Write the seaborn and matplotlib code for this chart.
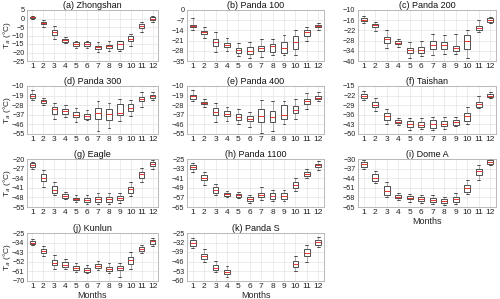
import numpy as np
import pandas as pd
import matplotlib
matplotlib.use("Agg")
import matplotlib.pyplot as plt
import seaborn as sns

months = list(range(1, 13))

# five-number summaries per month: [min, q1, median, q3, max]
zhongshan = [[-0.5, 0.2, 0.7, 1.0, 1.5], [-5, -3.5, -2.7, -1.8, -0.8], [-12, -9.6, -8, -6.6, -4.6],
             [-14.5, -13.6, -12.8, -12, -11], [-17.5, -16, -15, -14, -13], [-17.5, -16.2, -15, -14, -13],
             [-19.5, -17.8, -16.7, -16, -14], [-19, -17.5, -16.3, -15.3, -13.5], [-19, -17.8, -15, -13.5, -13],
             [-16, -13, -11.8, -10.5, -9], [-8, -5.5, -4.5, -3.5, -2], [-2, -0.8, 0, 0.8, 1.5]]
panda100 = [[-13.5, -11.7, -11, -10.2, -5.5], [-19, -16.3, -15.3, -14.3, -12], [-29, -24.5, -22, -19.8, -15],
            [-28, -25.7, -24, -22.8, -19.5], [-31.5, -29.5, -27.5, -26, -22.5], [-33, -30.3, -28, -25.7, -22],
            [-32, -28, -26, -24.5, -20], [-31, -28.5, -24.5, -23, -20], [-31, -29.8, -26, -22.3, -17],
            [-31, -26.8, -22, -17.5, -14], [-21, -17.5, -15, -13.5, -11.5], [-13.5, -11.7, -11, -10.3, -9]]
panda200 = [[-17.5, -16.6, -15.8, -14.8, -13.5], [-22.5, -20, -19, -18, -17], [-32.5, -29.2, -27.3, -26, -22],
            [-32, -30.2, -29.3, -28.5, -27], [-38, -35, -33.5, -32.5, -29], [-37, -35.5, -33.5, -31.5, -28.5],
            [-36.5, -33, -30.8, -28, -24], [-36, -32.8, -30.5, -29, -24.5], [-36, -34, -32.5, -31, -24],
            [-38, -33, -28, -24.5, -22], [-23, -22, -20.8, -19.5, -16], [-17.8, -17, -16, -14.8, -14]]
panda300 = [[-23, -20.8, -19.5, -17.5, -14], [-28, -25.8, -24.5, -23.5, -21], [-41, -35.8, -32, -29.5, -25.5],
            [-39, -36.3, -33.5, -32, -28], [-43.5, -39, -37, -34.5, -30.5], [-42, -40.5, -38.5, -36, -32.5],
            [-52, -40.5, -35, -31, -24.5], [-49, -41.5, -36.5, -32, -26], [-43, -37.3, -35, -27, -22.5],
            [-38, -33.5, -31, -27, -23], [-30, -24.3, -22.5, -20.3, -15.5], [-23.5, -21.5, -19.5, -18, -15.5]]
panda400 = [[-24, -21.8, -19.5, -18, -14], [-30, -27, -26, -25.3, -22], [-44, -37.5, -34, -31, -26],
            [-43, -38.3, -36, -33.5, -29.5], [-46, -42, -39, -36, -32], [-48, -43, -41, -38.5, -34],
            [-54, -44, -38, -32, -23.5], [-52, -44, -39, -33.5, -24.5], [-46, -40.5, -37, -28, -24],
            [-41, -35, -32.5, -28.5, -22], [-32, -26.5, -24, -22, -16.5], [-24, -22.5, -21, -19, -16]]
taishan = [[-25, -23.4, -22, -20.8, -19], [-33, -30.2, -28.5, -27, -24], [-43, -39.5, -37, -35, -31.5],
           [-43.5, -41.8, -41, -39.8, -38], [-47, -45, -43, -40.5, -38], [-46.5, -44.8, -43.5, -41.5, -38.5],
           [-47, -45.5, -43, -40, -37.5], [-46, -44.3, -42.5, -40.5, -37.5], [-44.5, -43.3, -41.5, -39.5, -37.5],
           [-42.5, -40.5, -37, -34.5, -30], [-31, -30.2, -28, -26.5, -22.5], [-24, -23.3, -22, -20.8, -19.5]]
eagle = [[-27.5, -25.8, -24.5, -23.2, -22], [-40.5, -36, -33.5, -31, -28], [-46, -45, -42.5, -40, -37],
         [-49.5, -48.5, -47, -45.8, -44], [-51, -50, -49, -48.3, -46.5], [-52.5, -51.5, -50, -48.5, -46],
         [-52.5, -51, -49, -47.5, -45], [-53, -51, -49.5, -48, -45], [-52, -50, -48.5, -47, -44.5],
         [-47, -44.5, -42, -40.5, -37], [-36.5, -34, -31, -29.5, -26.5], [-27, -24.8, -23.5, -22.3, -20.5]]
panda1100 = [[-35.5, -33.5, -32, -30, -28.5], [-47, -42.5, -40.5, -38, -36], [-55, -53, -51, -48.5, -45.5],
             [-57, -56, -54.5, -53, -51.5], [-57.5, -56.3, -55, -53.8, -52.5], [-61.5, -59.8, -58, -56.5, -55],
             [-59, -57, -55, -53, -48.5], [-60, -58, -55.5, -53, -50.5], [-60, -58, -56, -53.5, -51],
             [-52, -49.5, -47, -44, -41], [-41, -39.5, -37.5, -35.5, -33], [-34, -32, -30.3, -29, -27]]
domea = [[-37.5, -36, -34, -32, -31], [-47.5, -46, -43.5, -41, -39], [-57.5, -56.5, -53, -50, -47],
         [-60, -58.5, -57.5, -56, -55], [-61, -59.5, -58.5, -57.3, -55.5], [-62, -60.3, -59, -58, -56.5],
         [-63, -61.5, -60, -58.5, -56], [-63.5, -62, -60.5, -59.3, -57.5], [-63, -61.5, -59.5, -57.5, -54.5],
         [-55.5, -54, -51.5, -49, -45.5], [-45, -41.5, -39, -37, -34.5], [-34.5, -33.3, -32, -31, -30]]
kunlun = [[-36, -35.5, -34, -32.5, -31], [-47, -44, -42, -40, -37], [-59, -55.5, -53, -50.5, -46],
          [-59, -57, -55, -52.5, -49.5], [-61.5, -60, -58, -56, -53], [-63, -61.5, -60, -58, -55.5],
          [-60, -58, -56, -54, -51.5], [-63, -61, -59, -57.5, -53], [-67, -60, -58, -56, -53.5],
          [-59, -54, -51, -47.5, -43], [-44, -42.5, -40.5, -38.5, -36], [-37, -35, -33, -31.5, -29.5]]
nan5 = [np.nan] * 5
pandas_ = [[-36, -34.3, -32.5, -30.5, -29], [-46.5, -44, -42, -40.5, -36.5], [-54, -52, -50.5, -48.5, -45.5],
           [-57.5, -55.5, -54, -52, -49.5], nan5, nan5, nan5, nan5, nan5,
           [-53, -50, -47.5, -45.5, -42], [-46, -42, -39.5, -37, -34], [-35, -33.5, -31.5, -30, -28]]

titles = ["(a) Zhongshan", "(b) Panda 100", "(c) Panda 200", "(d) Panda 300", "(e) Panda 400",
          "(f) Taishan", "(g) Eagle", "(h) Panda 1100", "(i) Dome A", "(j) Kunlun", "(k) Panda S"]
series = [zhongshan, panda100, panda200, panda300, panda400, taishan, eagle, panda1100, domea, kunlun, pandas_]
yticks = [list(range(5, -26, -5)), list(range(0, -36, -7)), list(range(-10, -41, -6)),
          list(range(-10, -56, -9)), list(range(-10, -56, -9)), list(range(-15, -51, -7)),
          list(range(-20, -56, -7)), list(range(-25, -66, -8)), list(range(-30, -66, -7)),
          list(range(-25, -71, -9)), list(range(-25, -61, -7))]

sns.set_style("whitegrid")
plt.rcParams['font.family'] = ['Liberation Sans', 'DejaVu Sans']

W, H = 500, 299
fig = plt.figure(figsize=(W / 100, H / 100), dpi=100)
col_x = [(27, 131), (187, 137), (358, 138)]
row_y = [(10, 51), (86, 48), (159, 48), (233, 47.5)]

for i, (title, data, yt) in enumerate(zip(titles, series, yticks)):
    r, c = divmod(i, 3)
    x0, w = col_x[c]
    y0, h = row_y[r]
    ax = fig.add_axes([x0 / W, 1 - (y0 + h) / H, w / W, h / H])
    rows = []
    for m, vals in zip(months, data):
        for v in vals:
            rows.append((m, v))
    df = pd.DataFrame(rows, columns=["month", "T"])
    sns.boxplot(data=df, x="month", y="T", order=months, ax=ax, whis=np.inf, width=0.5,
                color="white", linewidth=0.6, linecolor="#333333",
                medianprops=dict(color="#e8342c", linewidth=0.7),
                whiskerprops=dict(color="#555555", linestyle=(0, (1.2, 1.2)), linewidth=0.6),
                capprops=dict(color="#333333", linewidth=0.6))
    ax.set_ylim(yt[-1], yt[0])
    ax.set_yticks(yt)
    ax.set_xlim(-0.5, 11.5)
    ax.grid(True, color="#e4e4e4", linewidth=0.5)
    ax.set_axisbelow(True)
    for s in ax.spines.values():
        s.set_color("#b0b0b0")
        s.set_linewidth(0.6)
    ax.tick_params(axis="y", labelsize=5.2, length=0, pad=1.8, colors="#222222")
    ax.tick_params(axis="x", labelsize=6, length=0, pad=1.5, colors="#222222")
    ax.set_title(title, fontsize=6.5, pad=1.5, color="#111111")
    ax.set_xlabel("Months" if i in (8, 9, 10) else "", fontsize=6.5, labelpad=1)
    if c == 0:
        ax.set_ylabel("T$_a$ (°C)", fontsize=6)
        ax.yaxis.set_label_coords(-0.108, 0.5)
    else:
        ax.set_ylabel("")

fig.savefig("out.png", dpi=100)
